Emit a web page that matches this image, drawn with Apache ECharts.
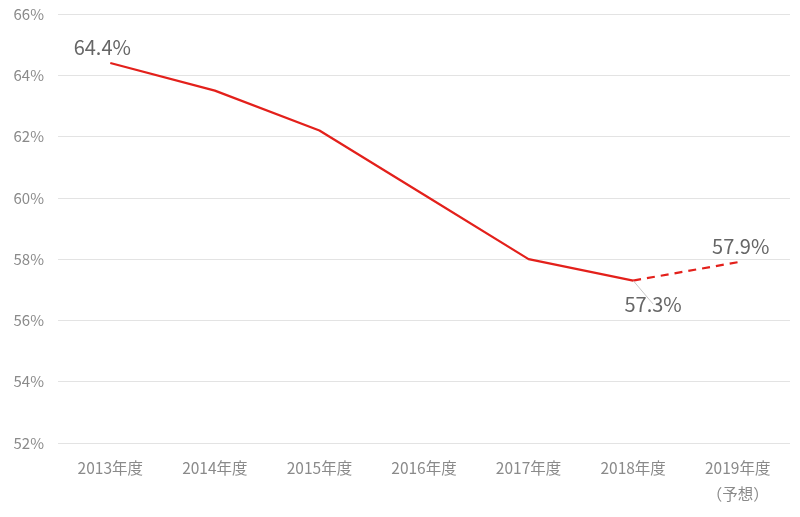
<!DOCTYPE html>
<html><head><meta charset="utf-8">
<script src="https://cdn.jsdelivr.net/npm/echarts@6/dist/echarts.min.js"></script>
<style>html,body{margin:0;padding:0;background:#fff}#c{width:800px;height:517px}</style>
</head><body><div id="c"></div>
<script>
const categories = ['2013年度','2014年度','2015年度','2016年度','2017年度','2018年度','2019年度\n（予想）'];
const actual = [64.4, 63.5, 62.2, 60.1, 58.0, 57.3, null];
const forecast = [null, null, null, null, null, 57.3, 57.9];
const yTicks = {min: 52, max: 66, interval: 2};
const labeledActual = [0, 5];

const font = '"Noto Sans CJK JP", "Noto Sans", sans-serif';
const labelBase = {show: false, formatter: p => p.value.toFixed(1) + '%', color: '#666', fontSize: 20, fontFamily: font};
const chart = echarts.init(document.getElementById('c'));
chart.setOption({
  animation: false,
  grid: {left: 58, right: 10, top: 14, bottom: 74},
  xAxis: {
    type: 'category', data: categories, boundaryGap: true,
    axisLine: {show: false}, axisTick: {show: false},
    axisLabel: {color: '#8a8a8a', fontSize: 15.5, fontFamily: font, margin: 12, lineHeight: 26}
  },
  yAxis: {
    type: 'value', min: yTicks.min, max: yTicks.max, interval: yTicks.interval,
    axisLine: {show: false}, axisTick: {show: false},
    splitLine: {lineStyle: {color: '#e3e3e3', width: 1}},
    axisLabel: {color: '#8a8a8a', fontSize: 15, fontFamily: font, margin: 14, formatter: v => v + '%'}
  },
  series: [
    {
      type: 'line',
      data: actual.map((v, i) => labeledActual.includes(i) ? (i === 0 ? {
        value: v, label: {show: true, position: 'top', offset: [-8, 0]}
      } : {
        value: v, label: {show: true, position: 'bottom', offset: [20, 8]},
        labelLine: {show: true, lineStyle: {color: '#c8c8c8', width: 1}}
      }) : v),
      showSymbol: true, symbol: 'circle', symbolSize: 1,
      itemStyle: {color: 'rgba(0,0,0,0)'},
      lineStyle: {color: '#e3201b', width: 2.2},
      label: labelBase,
      z: 3
    },
    {
      type: 'line',
      data: forecast.map((v, i) => i === 6 ? {value: v, label: {show: true, position: 'top', offset: [3, 0]}} : v),
      showSymbol: true, symbol: 'circle', symbolSize: 1,
      itemStyle: {color: 'rgba(0,0,0,0)'},
      lineStyle: {color: '#e3201b', width: 2.2, type: [8, 6]},
      label: labelBase,
      z: 2
    }
  ]
});
</script></body></html>
